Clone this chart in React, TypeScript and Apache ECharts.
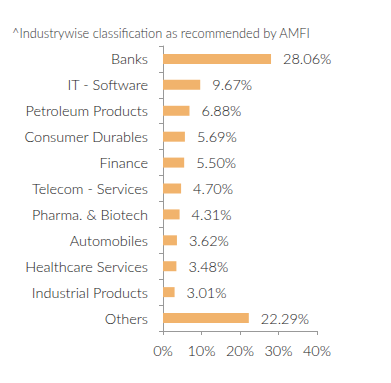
import React, { useEffect, useRef } from "react";
import * as echarts from "echarts";

const categories = [
  "Banks",
  "IT - Software",
  "Petroleum Products",
  "Consumer Durables",
  "Finance",
  "Telecom - Services",
  "Pharma. & Biotech",
  "Automobiles",
  "Healthcare Services",
  "Industrial Products",
  "Others",
];
const values = [28.06, 9.67, 6.88, 5.69, 5.5, 4.7, 4.31, 3.62, 3.48, 3.01, 22.29];
const titleText = "^Industrywise classification as recommended by AMFI";

export default function App() {
  const ref = useRef<HTMLDivElement>(null);
  useEffect(() => {
    document.body.style.margin = "0";
    const chart = echarts.init(ref.current!, null, { renderer: "svg" });
    chart.setOption({
      animation: false,
      textStyle: { fontFamily: "Lato" },
      title: {
        text: titleText,
        left: 7,
        top: 21,
        textStyle: { fontSize: 12.8, fontWeight: 300, color: "#333", fontFamily: "Lato" },
      },
      grid: { left: 163, top: 46, width: 154, height: 285, containLabel: false },
      xAxis: {
        type: "value",
        min: 0,
        max: 40,
        interval: 10,
        splitLine: { show: false },
        axisLine: { show: true, lineStyle: { color: "#999", width: 1 } },
        axisTick: { show: true, length: 4, lineStyle: { color: "#999" } },
        axisLabel: { formatter: "{value}%", fontSize: 14.5, fontWeight: 300, color: "#222", margin: 12 },
      },
      yAxis: {
        type: "category",
        inverse: true,
        data: categories,
        axisLine: { show: true, lineStyle: { color: "#999", width: 1 } },
        axisTick: { show: true, length: 4, lineStyle: { color: "#999" } },
        axisLabel: { fontSize: 14.5, fontWeight: 300, color: "#222", margin: 15 },
      },
      series: [
        {
          type: "bar",
          data: values,
          barWidth: 10,
          itemStyle: { color: "#F1B36C" },
          label: {
            show: true,
            position: "right",
            distance: 12,
            fontSize: 14.5,
            fontWeight: 300,
            color: "#222",
            formatter: (p: any) => p.value.toFixed(2) + "%",
          },
        },
      ],
    });
    return () => chart.dispose();
  }, []);
  return <div ref={ref} style={{ width: 391, height: 383 }} />;
}
